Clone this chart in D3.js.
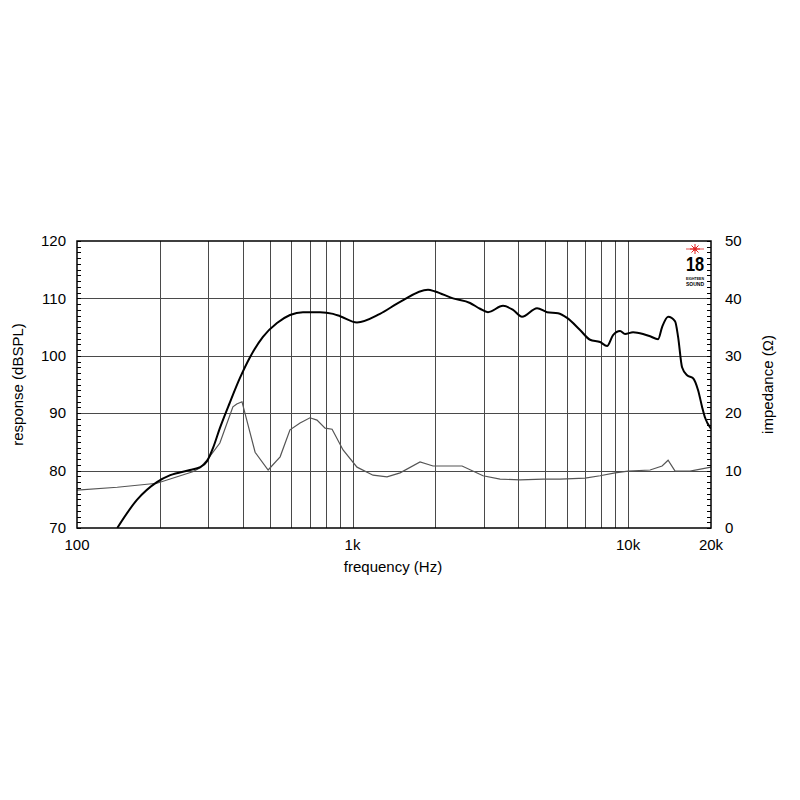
<!DOCTYPE html>
<html>
<head>
<meta charset="utf-8">
<script src="https://cdn.jsdelivr.net/npm/d3@7/dist/d3.min.js"></script>
<style>
  html, body { margin: 0; padding: 0; background: #fff; }
  svg { display: block; }
  text { font-family: "Liberation Sans", Arial, Helvetica, sans-serif; fill: #000; }
</style>
</head>
<body>
<svg id="chart" width="800" height="800"></svg>
<script>
// ---- data ----
const responseFreq = [140, 165, 195, 218, 257, 280, 296, 312, 330, 359, 390, 425, 473, 532, 593, 661, 762, 850, 901, 1038, 1258, 1488, 1879, 1993, 2316, 2670, 2902, 3102, 3517, 3824, 4123, 4674, 5082, 5570, 6005, 6695, 7279, 7914, 8390, 8821, 9355, 9752, 10426, 11334, 12022, 12853, 13290, 13975, 14815, 15191, 15704, 16377, 17218, 17955, 18565, 19036, 20000];
const responseDb = [70, 74.9, 78, 79.2, 80.1, 80.6, 81.6, 84.0, 87.4, 91.9, 96.1, 99.8, 103.3, 105.7, 107.1, 107.6, 107.6, 107.3, 106.9, 105.8, 107.3, 109.4, 111.5, 111.2, 110.0, 109.2, 108.2, 107.6, 108.7, 108.0, 106.8, 108.3, 107.6, 107.4, 106.6, 104.5, 102.8, 102.4, 101.7, 103.6, 104.3, 103.8, 104.1, 103.8, 103.4, 102.9, 105.0, 106.8, 106.0, 103.3, 98.0, 96.6, 96.1, 94.0, 91.1, 89.2, 87.3];

const impedanceFreq = [100, 140, 195, 263, 280, 296, 330, 368, 380, 397, 443, 494, 546, 593, 645, 701, 743, 795, 843, 924, 1038, 1187, 1334, 1488, 1758, 1960, 2498, 2976, 3431, 4055, 4913, 5665, 6982, 7914, 8971, 10000, 12022, 13290, 13975, 14815, 16788, 20000];
const impedanceOhm = [6.6, 7.1, 7.8, 9.8, 10.5, 11.8, 14.8, 21.1, 21.6, 22.0, 13.2, 10.1, 12.4, 17.1, 18.3, 19.2, 18.8, 17.4, 17.2, 13.6, 10.6, 9.2, 8.9, 9.6, 11.5, 10.8, 10.8, 9.1, 8.5, 8.4, 8.5, 8.5, 8.7, 9.1, 9.6, 9.9, 10.1, 10.8, 11.8, 9.9, 9.9, 10.6];

const gridFreqs = [200, 300, 400, 500, 600, 700, 800, 900, 1000, 2000, 3000, 4000, 5000, 6000, 7000, 8000, 9000, 10000];
const xTickValues = [100, 1000, 10000, 20000];
const xTickLabels = ["100", "1k", "10k", "20k"];
const leftTicks = [70, 80, 90, 100, 110, 120];
const rightTicks = [0, 10, 20, 30, 40, 50];

// ---- layout ----
const L = 77, R = 711, T = 241, B = 528;
const svg = d3.select("#chart");

const x = d3.scaleLog().domain([100, 20000]).range([L, R]);
const yL = d3.scaleLinear().domain([70, 120]).range([B, T]);
const yR = d3.scaleLinear().domain([0, 50]).range([B, T]);

svg.append("defs").append("clipPath").attr("id", "plotclip")
  .append("rect").attr("x", L).attr("y", T).attr("width", R - L).attr("height", B - T);

// grid
const grid = svg.append("g").attr("stroke", "#4a4a4a").attr("stroke-width", 1);
grid.selectAll("line.v").data(gridFreqs).join("line")
  .attr("x1", d => Math.round(x(d)) + 0.5).attr("x2", d => Math.round(x(d)) + 0.5)
  .attr("y1", T).attr("y2", B);
grid.selectAll("line.h").data([80, 90, 100, 110]).join("line")
  .attr("x1", L).attr("x2", R)
  .attr("y1", d => Math.round(yL(d)) + 0.5).attr("y2", d => Math.round(yL(d)) + 0.5);

// minor ticks inside (left & right)
const minorL = d3.range(70, 121, 1);
svg.append("g").attr("stroke", "#000").attr("stroke-width", 1)
  .selectAll("line").data(minorL).join("line")
  .attr("x1", L).attr("x2", L + 4)
  .attr("y1", d => Math.round(yL(d)) + 0.5).attr("y2", d => Math.round(yL(d)) + 0.5);
const minorR = d3.range(0, 51, 1);
svg.append("g").attr("stroke", "#000").attr("stroke-width", 1)
  .selectAll("line").data(minorR).join("line")
  .attr("x1", R - 4).attr("x2", R)
  .attr("y1", d => Math.round(yR(d)) + 0.5).attr("y2", d => Math.round(yR(d)) + 0.5);

// curves
const plot = svg.append("g").attr("clip-path", "url(#plotclip)");
const impData = impedanceFreq.map((f, i) => [f, impedanceOhm[i]]);
plot.append("path")
  .datum(impData)
  .attr("fill", "none").attr("stroke", "#555").attr("stroke-width", 1.2)
  .attr("d", d3.line().x(d => x(d[0])).y(d => yR(d[1])).curve(d3.curveLinear));

const respData = responseFreq.map((f, i) => [f, responseDb[i]]);
plot.append("path")
  .datum(respData)
  .attr("fill", "none").attr("stroke", "#000").attr("stroke-width", 2)
  .attr("d", d3.line().x(d => x(d[0])).y(d => yL(d[1])).curve(d3.curveMonotoneX));

// frame
svg.append("rect").attr("x", L).attr("y", T).attr("width", R - L).attr("height", B - T)
  .attr("fill", "none").attr("stroke", "#000").attr("stroke-width", 1.5);

// axes labels
svg.append("g").selectAll("text").data(leftTicks).join("text")
  .attr("x", L - 11).attr("y", d => yL(d)).attr("dy", "0.35em")
  .attr("text-anchor", "end").attr("font-size", 15).text(d => d);
svg.append("g").selectAll("text").data(rightTicks).join("text")
  .attr("x", R + 14).attr("y", d => yR(d)).attr("dy", "0.35em")
  .attr("text-anchor", "start").attr("font-size", 15).text(d => d);
svg.append("g").selectAll("text").data(xTickValues).join("text")
  .attr("x", d => x(d)).attr("y", 550)
  .attr("text-anchor", "middle").attr("font-size", 15).text((d, i) => xTickLabels[i]);

svg.append("text").attr("x", (L + R) / 2 - 1).attr("y", 572)
  .attr("text-anchor", "middle").attr("font-size", 15).text("frequency (Hz)");
svg.append("text").attr("transform", `translate(23,${(T + B) / 2}) rotate(-90)`)
  .attr("text-anchor", "middle").attr("font-size", 15).text("response (dBSPL)");
svg.append("text").attr("transform", `translate(773,${(T + B) / 2}) rotate(-90)`)
  .attr("text-anchor", "middle").attr("font-size", 15).text("impedance (Ω)");

// logo
const logo = svg.append("g").attr("transform", "translate(695,0)");
const star = logo.append("g").attr("stroke", "#e02020").attr("stroke-width", 1);
[0, 45, 90, 135].forEach(a => {
  const r = 5, rad = a * Math.PI / 180;
  star.append("line").attr("x1", -r * Math.cos(rad)).attr("y1", 249 - r * Math.sin(rad))
    .attr("x2", r * Math.cos(rad)).attr("y2", 249 + r * Math.sin(rad));
});
star.append("line").attr("x1", -9).attr("x2", 9).attr("y1", 249).attr("y2", 249).attr("stroke-width", 0.8);
logo.append("circle").attr("cx", 0).attr("cy", 249).attr("r", 1.8).attr("fill", "#e02020");
logo.append("text").attr("transform", "translate(0,271) scale(0.78,1)").attr("text-anchor", "middle")
  .attr("font-size", 21).attr("font-weight", "bold").text("18");
logo.append("text").attr("x", 0).attr("y", 279.5).attr("text-anchor", "middle")
  .attr("font-size", 3.5).attr("font-weight", "bold").text("EIGHTEEN");
logo.append("text").attr("x", 0).attr("y", 285.5).attr("text-anchor", "middle")
  .attr("font-size", 5).attr("font-weight", "bold").text("SOUND");
</script>
</body>
</html>
